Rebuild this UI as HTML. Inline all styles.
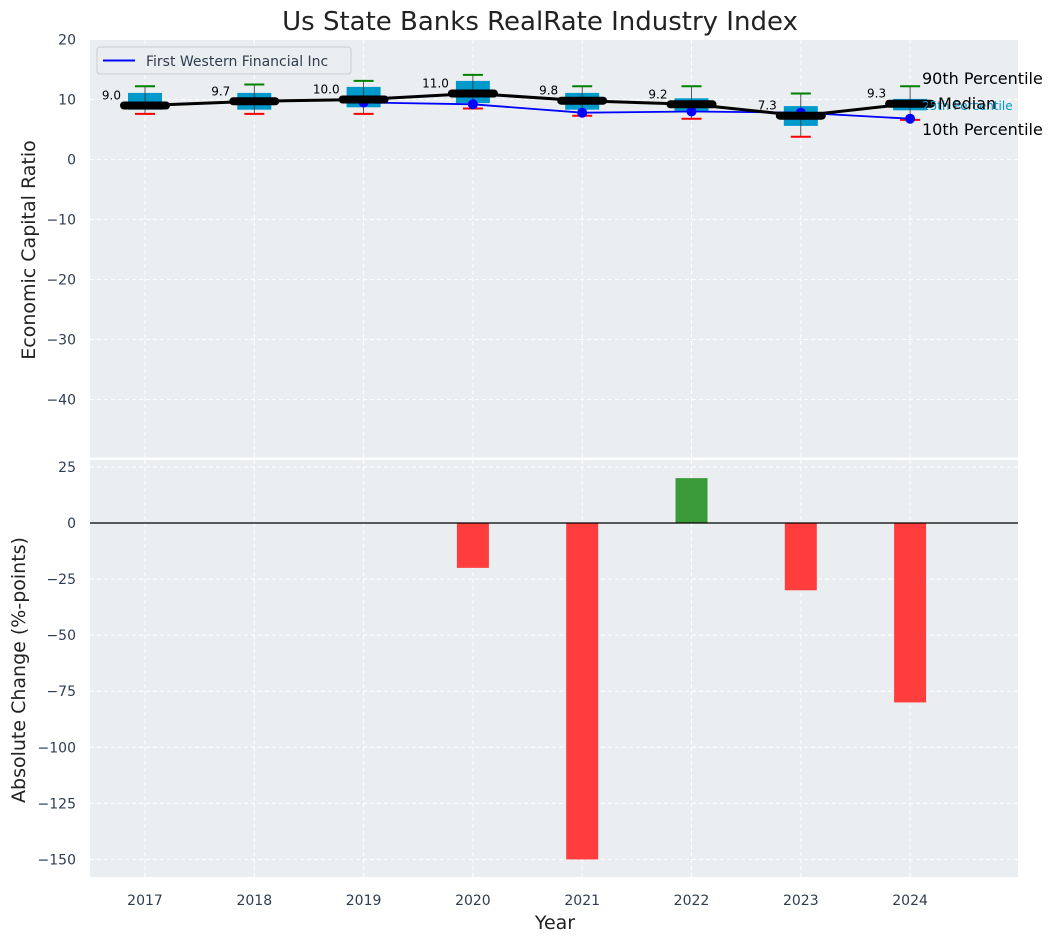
<!DOCTYPE html>
<html><head><meta charset="utf-8"><style>
body{margin:0;background:#fff;}
svg{display:block;font-family:"DejaVu Sans","Liberation Sans",sans-serif;}
</style></head><body>
<svg id="c" width="1057" height="942" xmlns="http://www.w3.org/2000/svg">
<text x="540" y="30" font-size="26" text-anchor="middle" fill="#222">Us State Banks RealRate Industry Index</text>
<text transform="translate(35,250) rotate(-90)" font-size="19" text-anchor="middle" fill="#222">Economic Capital Ratio</text>
<text transform="translate(25,670) rotate(-90)" font-size="19" text-anchor="middle" fill="#222">Absolute Change (%-points)</text>
<text x="555" y="929" font-size="19" text-anchor="middle" fill="#222">Year</text>
<g id="gtop"></g><g id="gbot"></g>
</svg>
<script>
const years=["2017","2018","2019","2020","2021","2022","2023","2024"];
const p10=[7.6,7.6,7.6,8.5,7.3,6.8,3.8,6.6];
const p25=[8.3,8.3,8.7,9.4,8.3,8.1,5.6,8.2];
const p75=[11.1,11.1,12.1,13.1,11.1,10.2,8.9,10.1];
const p90=[12.2,12.5,13.1,14.1,12.2,12.2,11.0,12.2];
const median=[9.0,9.7,10.0,11.0,9.8,9.2,7.3,9.3];
const company=[null,null,9.5,9.2,7.8,8.0,7.8,6.8];
const changes=[0,0,0,-20,-150,20,-30,-80];
const topTicks=[20,10,0,-10,-20,-30,-40];
const botTicks=[25,0,-25,-50,-75,-100,-125,-150];
const NS="http://www.w3.org/2000/svg";
const L=90,R=1018;
const xs=i=>145+109.3*i;
const yT=v=>159.5-6*v;
const yB=v=>523-2.243*v;
function el(p,t,a,txt){const e=document.createElementNS(NS,t);for(const k in a)e.setAttribute(k,a[k]);if(txt!==undefined)e.textContent=txt;p.appendChild(e);return e;}
const gTop=document.getElementById('gtop'),gBot=document.getElementById('gbot');
let bg=el(gTop,'rect',{x:L,y:40,width:R-L,height:417.5,fill:'#eaeef0'});


let bg2=el(gBot,'rect',{x:L,y:460,width:R-L,height:417,fill:'#eaeef0'});


topTicks.forEach(t=>{
 el(gTop,'line',{x1:L,x2:R,y1:yT(t),y2:yT(t),stroke:'#fff','stroke-dasharray':'4,3','stroke-width':1});
 const tx=el(gTop,'text',{x:L-14,y:yT(t)+5,'font-size':14,'text-anchor':'end',fill:'#2e3d50'},t<0?'\u2212'+(-t):String(t));
 
 
});
botTicks.forEach(t=>{
 el(gBot,'line',{x1:L,x2:R,y1:yB(t),y2:yB(t),stroke:'#fff','stroke-dasharray':'4,3','stroke-width':1});
 const tx=el(gBot,'text',{x:L-14,y:yB(t)+5,'font-size':14,'text-anchor':'end',fill:'#2e3d50'},t<0?'\u2212'+(-t):String(t));
 
 
});
years.forEach((y,i)=>{
 el(gTop,'line',{x1:xs(i),x2:xs(i),y1:40,y2:457,stroke:'#fff','stroke-dasharray':'4,3'});
 el(gBot,'line',{x1:xs(i),x2:xs(i),y1:460,y2:877,stroke:'#fff','stroke-dasharray':'4,3'});
 const tx=el(gBot,'text',{x:xs(i),y:905,'font-size':14,'text-anchor':'middle',fill:'#2e3d50'},y);
 
 
});
years.forEach((y,i)=>{
 const x=xs(i);
 const b=el(gTop,'rect',{x:x-17,y:yT(p75[i]),width:34,height:yT(p25[i])-yT(p75[i]),fill:'#0099cc'});
 
 
 el(gTop,'line',{x1:x,x2:x,y1:yT(p90[i]),y2:yT(p10[i]),stroke:'#333','stroke-width':0.8});
 const g=el(gTop,'line',{x1:x-10,x2:x+10,y1:yT(p90[i]),y2:yT(p90[i]),stroke:'green','stroke-width':2});
 
 
 const r=el(gTop,'line',{x1:x-10,x2:x+10,y1:yT(p10[i]),y2:yT(p10[i]),stroke:'red','stroke-width':2});
 
 
});
let pts=[];company.forEach((v,i)=>{if(v!==null)pts.push(xs(i)+','+yT(v));});
const cl=el(gTop,'polyline',{points:pts.join(' '),fill:'none',stroke:'blue','stroke-width':1.8});


const ml=el(gTop,'polyline',{points:median.map((v,i)=>xs(i)+','+yT(v)).join(' '),fill:'none',stroke:'#000','stroke-width':3});


company.forEach((v,i)=>{if(v===null)return;
 const c=el(gTop,'circle',{cx:xs(i),cy:yT(v),r:5,fill:'blue'});
 
 });
median.forEach((v,i)=>{
 const m=el(gTop,'line',{x1:xs(i)-21,x2:xs(i)+21,y1:yT(v),y2:yT(v),stroke:'#000','stroke-width':8,'stroke-linecap':'round'});
 
 
 const t=el(gTop,'text',{x:xs(i)-24,y:yT(v)-6,'font-size':12,'text-anchor':'end',fill:'#000'},v.toFixed(1));
 
 
});
const lx=922;
[['90th Percentile',84,16,'#000'],['25th Percentile',110,12,'#0099cc'],['Median',109,16,'#000'],['10th Percentile',135,16,'#000']].forEach(a=>{
 const t=el(gTop,'text',{x:a[0]==='Median'?lx+16:lx,y:a[1],'font-size':a[2],fill:a[3]},a[0]);
 
 
});
el(gTop,'line',{x1:924,x2:936,y1:104,y2:104,stroke:'#000','stroke-width':1});
const lg=el(gTop,'g',{});


el(lg,'rect',{x:97,y:47,width:254,height:27,rx:3,fill:'#eaeef0',stroke:'#ccc'});
el(lg,'line',{x1:103,x2:135,y1:60.5,y2:60.5,stroke:'blue','stroke-width':2});
el(lg,'text',{x:146,y:66,'font-size':14,fill:'#2e3d50'},'First Western Financial Inc');
changes.forEach((v,i)=>{
 if(v===0)return;
 const y0=yB(Math.max(v,0)),y1=yB(Math.min(v,0));
 const b=el(gBot,'rect',{x:xs(i)-16,y:y0,width:32,height:y1-y0,fill:v<0?'#ff3d3d':'#3a9a3a'});
 
 
});
const zl=el(gBot,'line',{x1:L,x2:R,y1:yB(0),y2:yB(0),stroke:'#000','stroke-width':1.2});


</script>
</body></html>
